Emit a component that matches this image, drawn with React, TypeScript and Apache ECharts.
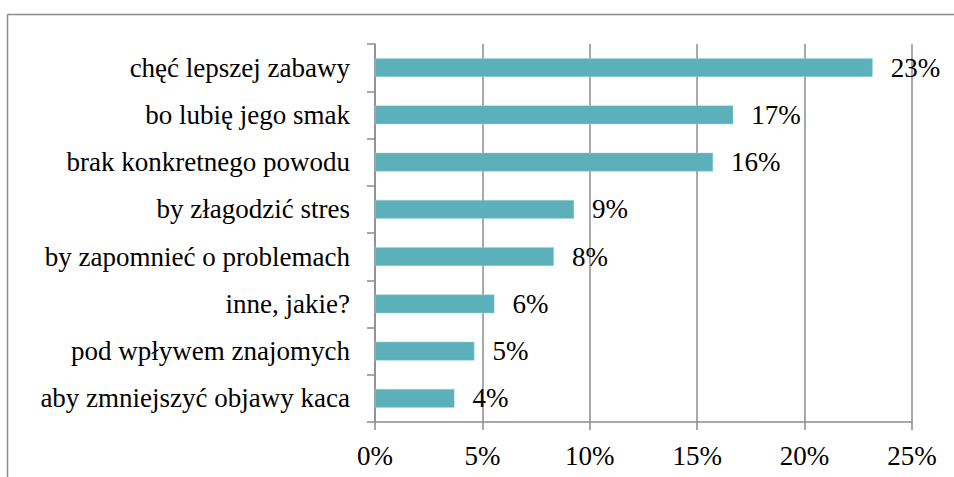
import React, { useEffect, useRef } from "react";
import * as echarts from "echarts";

const categories = [
  "chęć lepszej zabawy",
  "bo lubię jego smak",
  "brak konkretnego powodu",
  "by złagodzić stres",
  "by zapomnieć o problemach",
  "inne, jakie?",
  "pod wpływem znajomych",
  "aby zmniejszyć objawy kaca",
];
const values = [23.17, 16.68, 15.74, 9.27, 8.33, 5.56, 4.63, 3.7];
const xTicks = [0, 5, 10, 15, 20, 25];

const FONT = "Liberation Serif";
const GRAY = "#8c8c8c";

export default function App() {
  const ref = useRef<HTMLDivElement>(null);
  useEffect(() => {
    document.body.style.margin = "0";
    const chart = echarts.init(ref.current!, null, { renderer: "svg" });
    chart.setOption({
      animation: false,
      backgroundColor: "#ffffff",
      grid: { left: 375, right: 42, top: 44, bottom: 55, containLabel: false },
      xAxis: {
        type: "value",
        min: xTicks[0],
        max: xTicks[xTicks.length - 1],
        interval: 5,
        axisLine: { show: true, lineStyle: { color: GRAY, width: 1.5 } },
        axisTick: { show: true, length: 8, lineStyle: { color: GRAY, width: 1.5 } },
        splitLine: { show: true, lineStyle: { color: GRAY, width: 1.5 } },
        axisLabel: {
          formatter: (v: number) => v + "%",
          fontFamily: FONT,
          fontSize: 27,
          color: "#000",
          margin: 20,
        },
      },
      yAxis: {
        type: "category",
        data: categories,
        inverse: true,
        axisLine: { show: true, lineStyle: { color: GRAY, width: 1.5 } },
        axisTick: { show: true, length: 8, lineStyle: { color: GRAY, width: 1.5 } },
        splitLine: { show: false },
        axisLabel: {
          fontFamily: FONT,
          fontSize: 27,
          color: "#000",
          margin: 25,
        },
      },
      series: [
        {
          type: "bar",
          data: values,
          barCategoryGap: "60%",
          itemStyle: { color: "#5BB0B9", borderColor: "#a6d6db", borderWidth: 0.5 },
          label: {
            show: true,
            position: "right",
            distance: 18,
            formatter: (p: any) => Math.round(p.value) + "%",
            fontFamily: FONT,
            fontSize: 27,
            color: "#000",
          },
        },
      ],
      graphic: [
        {
          type: "line",
          shape: { x1: 7.5, y1: 14.5, x2: 7.5, y2: 477 },
          style: { stroke: GRAY, lineWidth: 1.5 },
        },
        {
          type: "line",
          shape: { x1: 7.5, y1: 14.5, x2: 954, y2: 14.5 },
          style: { stroke: GRAY, lineWidth: 1.5 },
        },
      ],
    });
    return () => chart.dispose();
  }, []);
  return <div ref={ref} style={{ width: 954, height: 477 }} />;
}
